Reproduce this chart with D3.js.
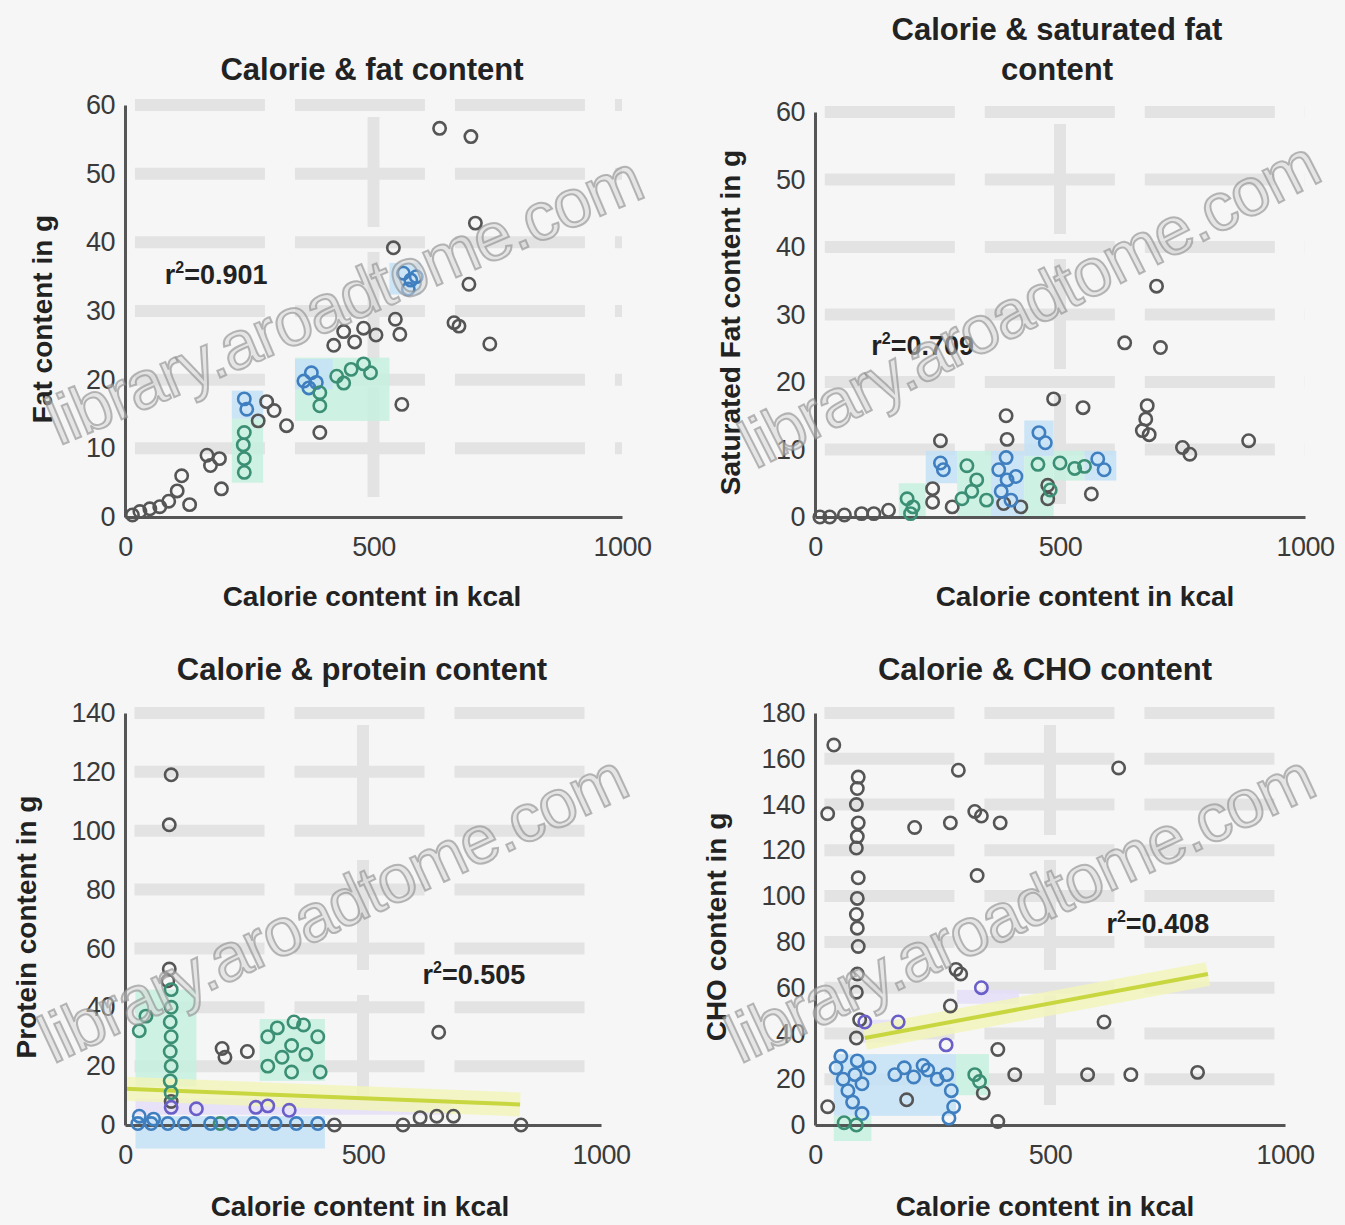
<!DOCTYPE html>
<html>
<head>
<meta charset="utf-8">
<script src="https://cdn.jsdelivr.net/npm/d3@7"></script>
<style>
  body { margin: 0; background: #f6f6f6; }
  svg { display: block; font-family: "Liberation Sans", Arial, sans-serif; }
</style>
</head>
<body>
<svg id="chart" width="1345" height="1225"></svg>
<script>
// x axis ticks are shared by every panel
const calorieTicks = [0, 500, 1000];

// [kcal, grams, group]  g = grey, b = blue, t = green, p = purple
const fatPoints = [
  [633, 56.6, "g"], [696, 55.4, "g"], [705, 42.8, "g"], [692, 33.9, "g"], [662, 28.3, "g"],
  [672, 27.8, "g"], [734, 25.2, "g"], [540, 39.2, "g"], [544, 28.8, "g"], [553, 26.6, "g"],
  [557, 16.4, "g"], [480, 27.5, "g"], [505, 26.5, "g"], [462, 25.5, "g"], [440, 27, "g"],
  [420, 25, "g"], [392, 12.3, "g"], [325, 13.3, "g"], [300, 15.5, "g"], [285, 16.8, "g"],
  [268, 14, "g"], [194, 4.1, "g"], [190, 8.5, "g"], [165, 9, "g"], [172, 7.5, "g"],
  [114, 6, "g"], [105, 3.8, "g"], [88, 2.3, "g"], [70, 1.5, "g"], [50, 1.2, "g"],
  [30, 0.8, "g"], [15, 0.3, "g"], [130, 1.8, "g"],
  [560, 35.5, "b"], [575, 34.5, "b"], [586, 35, "b"], [570, 33.2, "b"], [360, 19.8, "b"],
  [375, 21, "b"], [385, 19.6, "b"], [370, 18.8, "b"], [240, 17.2, "b"], [245, 15.7, "b"],
  [392, 18.1, "t"], [392, 16.2, "t"], [426, 20.5, "t"], [455, 21.5, "t"], [480, 22.3, "t"],
  [494, 21, "t"], [440, 19.5, "t"], [240, 12.3, "t"], [238, 10.5, "t"], [240, 8.5, "t"],
  [240, 6.5, "t"]
];
const satFatPoints = [
  [697, 34.2, "g"], [632, 25.8, "g"], [705, 25.1, "g"], [678, 16.5, "g"], [675, 14.5, "g"],
  [668, 12.8, "g"], [682, 12.2, "g"], [750, 10.3, "g"], [765, 9.3, "g"], [885, 11.3, "g"],
  [487, 17.5, "g"], [547, 16.2, "g"], [564, 3.4, "g"], [475, 4.7, "g"], [475, 2.7, "g"],
  [390, 15, "g"], [392, 11.5, "g"], [256, 11.3, "g"], [240, 4.2, "g"], [240, 2.2, "g"],
  [280, 1.5, "g"], [150, 1, "g"], [120, 0.5, "g"], [95, 0.5, "g"], [60, 0.3, "g"],
  [30, 0, "g"], [10, 0, "g"], [385, 2, "g"], [420, 1.5, "g"],
  [457, 12.5, "b"], [470, 11, "b"], [577, 8.6, "b"], [590, 7, "b"], [390, 8.8, "b"],
  [375, 7, "b"], [392, 5.5, "b"], [380, 3.8, "b"], [400, 2.5, "b"], [256, 8, "b"],
  [262, 7, "b"], [410, 6, "b"],
  [455, 7.8, "t"], [500, 8, "t"], [530, 7.2, "t"], [550, 7.5, "t"], [310, 7.6, "t"],
  [330, 5.5, "t"], [320, 3.8, "t"], [300, 2.7, "t"], [350, 2.5, "t"], [188, 2.7, "t"],
  [200, 1.5, "t"], [195, 0.5, "t"], [480, 4, "t"]
];
const proteinPoints = [
  [97, 119, "g"], [93, 102, "g"], [93, 53, "g"], [90, 49, "g"], [204, 26, "g"],
  [210, 23, "g"], [257, 25, "g"], [659, 31.5, "g"], [584, 0, "g"], [620, 2.5, "g"],
  [655, 3, "g"], [690, 3, "g"], [832, 0, "g"], [97, 8, "g"], [440, 0, "g"],
  [97, 46, "t"], [97, 40, "t"], [95, 35, "t"], [97, 30, "t"], [95, 25, "t"],
  [97, 20, "t"], [95, 15, "t"], [97, 11, "t"], [44, 37, "t"], [30, 32, "t"],
  [300, 30, "t"], [320, 33, "t"], [355, 35, "t"], [375, 34, "t"], [405, 30, "t"],
  [350, 27, "t"], [380, 24, "t"], [410, 18, "t"], [350, 18, "t"], [300, 20, "t"],
  [330, 23, "t"], [200, 0.5, "t"],
  [27, 0.5, "b"], [55, 0.5, "b"], [90, 0.5, "b"], [125, 0.5, "b"], [180, 0.5, "b"],
  [225, 0.5, "b"], [270, 0.5, "b"], [315, 0.5, "b"], [360, 0.5, "b"], [405, 0.5, "b"],
  [30, 3, "b"], [60, 2, "b"],
  [97, 6, "p"], [150, 5.5, "p"], [275, 6, "p"], [300, 6.5, "p"], [345, 5, "p"]
];
const choPoints = [
  [40, 166, "g"], [27, 136, "g"], [212, 130, "g"], [288, 132, "g"], [305, 155, "g"],
  [340, 137, "g"], [354, 135, "g"], [394, 132, "g"], [345, 109, "g"], [646, 156, "g"],
  [300, 68, "g"], [310, 66, "g"], [288, 52, "g"], [389, 33, "g"], [615, 45, "g"],
  [425, 22, "g"], [580, 22, "g"], [672, 22, "g"], [814, 23, "g"], [358, 14, "g"],
  [389, 1.5, "g"], [195, 11, "g"], [27, 8, "g"],
  [92, 152, "g"], [90, 147, "g"], [88, 140, "g"], [92, 132, "g"], [90, 126, "g"],
  [88, 121, "g"], [92, 108, "g"], [90, 99, "g"], [88, 92, "g"], [90, 86, "g"],
  [92, 78, "g"], [90, 66, "g"], [88, 58, "g"], [95, 46, "g"], [88, 38, "g"],
  [354, 60, "p"], [177, 45, "p"], [106, 45, "p"], [279, 35, "p"],
  [45, 25, "b"], [60, 20, "b"], [70, 15, "b"], [80, 10, "b"], [90, 28, "b"],
  [100, 5, "b"], [85, 22, "b"], [55, 30, "b"], [100, 18, "b"], [115, 25, "b"],
  [170, 22, "b"], [190, 25, "b"], [210, 21, "b"], [240, 24, "b"], [260, 20, "b"],
  [280, 22, "b"], [290, 15, "b"], [295, 8, "b"], [285, 3, "b"], [230, 26, "b"],
  [340, 22, "t"], [350, 19, "t"], [62, 1, "t"], [88, 0, "t"]
];

// highlighted blocks [kcal from, kcal to, g from, g to, group]
const fatBlocks = [
  [532, 595, 32.4, 37, "b"], [342, 532, 14, 23.2, "t"], [342, 418, 18.6, 23, "b"],
  [215, 278, 14.3, 18.4, "b"], [215, 278, 5, 14.3, "t"]
];
const satFatBlocks = [
  [171, 226, 0, 5, "t"], [226, 290, 5, 9.8, "b"], [290, 359, 0, 9.8, "t"],
  [359, 427, 0, 9.8, "b"], [427, 487, 0, 9, "t"], [427, 487, 9, 14.3, "b"],
  [487, 550, 5.4, 9.8, "t"], [550, 615, 5.4, 9.8, "b"]
];
const proteinBlocks = [
  [22, 150, 13, 46, "t"], [283, 420, 15, 36, "t"], [22, 420, -8, 3, "b"], [22, 686, 3.5, 9, "p"]
];
const choBlocks = [
  [40, 300, 4, 31, "b"], [300, 370, 13, 31, "t"], [40, 120, -7, 4, "t"],
  [302, 434, 53, 59, "p"], [100, 180, 36, 46, "p"]
];

// trend lines [kcal, g] at both ends
const proteinTrend = [[0, 12.3], [830, 7]];
const choTrend = [[106, 38], [836, 66]];

const groupStroke = {g: "#555", b: "#3f7fc0", t: "#3b8f74", p: "#6a5fc8"};
const groupFill = {b: "#c4e2f6", t: "#c6f0de", p: "#e4def8"};

const svg = d3.select("#chart");

const panels = [
  {points: fatPoints, blocks: fatBlocks, yMax: 60, yStep: 10,
   title: ["Calorie & fat content"], yLabel: "Fat content in g", r2: "0.901",
   x0: 125, x1: 622, yB: 517, yT: 105, titleX: 372, titleY: [80],
   xLabelX: 372, xLabelY: 606, yLabelX: 52, r2At: [80, 34], wmAngle: -23},
  {points: satFatPoints, blocks: satFatBlocks, yMax: 60, yStep: 10,
   title: ["Calorie & saturated fat", "content"], yLabel: "Saturated Fat content in g", r2: "0.709",
   x0: 815, x1: 1305, yB: 517, yT: 112, titleX: 1057, titleY: [40, 80],
   xLabelX: 1085, xLabelY: 606, yLabelX: 740, r2At: [115, 24], wmAngle: -27},
  {points: proteinPoints, blocks: proteinBlocks, yMax: 140, yStep: 20,
   title: ["Calorie & protein content"], yLabel: "Protein content in g", r2: "0.505",
   x0: 125, x1: 601, yB: 1125, yT: 713, titleX: 362, titleY: [680], trend: proteinTrend,
   xLabelX: 360, xLabelY: 1216, yLabelX: 36, r2At: [625, 48], wmAngle: -25},
  {points: choPoints, blocks: choBlocks, yMax: 180, yStep: 20,
   title: ["Calorie & CHO content"], yLabel: "CHO content in g", r2: "0.408",
   x0: 815, x1: 1285, yB: 1125, yT: 713, titleX: 1045, titleY: [680], trend: choTrend,
   xLabelX: 1045, xLabelY: 1216, yLabelX: 726, r2At: [620, 84], wmAngle: -25}
];

panels.forEach(drawPanel);

function drawPanel(p) {
  const x = d3.scaleLinear().domain([0, 1000]).range([p.x0, p.x1]);
  const y = d3.scaleLinear().domain([0, p.yMax]).range([p.yB, p.yT]);
  const yTicks = d3.range(0, p.yMax + 1, p.yStep);
  const g = svg.append("g");

  // wide washed-out grid bands
  g.selectAll(".hgrid")
    .data(yTicks.slice(1))
    .enter()
    .append("line")
      .attr("x1", x(20)).attr("x2", x(1000))
      .attr("y1", d => y(d)).attr("y2", d => y(d))
      .attr("stroke", "#e3e3e3")
      .attr("stroke-width", 12)
      .attr("stroke-dasharray", "130 30");
  g.append("line")
      .attr("x1", x(500)).attr("x2", x(500))
      .attr("y1", y(p.yMax) + 12).attr("y2", p.yB - 4)
      .attr("stroke", "#e3e3e3")
      .attr("stroke-width", 12)
      .attr("stroke-dasharray", "110 25");

  // coloured blocks
  g.selectAll(".block")
    .data(p.blocks)
    .enter()
    .append("rect")
      .attr("x", d => x(d[0]))
      .attr("y", d => y(d[3]))
      .attr("width", d => x(d[1]) - x(d[0]))
      .attr("height", d => y(d[2]) - y(d[3]))
      .attr("fill", d => groupFill[d[4]])
      .attr("opacity", 0.85);

  // trend line with its pale halo
  if (p.trend) {
    const line = d3.line().x(d => x(d[0])).y(d => y(d[1]));
    g.append("path").attr("d", line(p.trend))
      .attr("stroke", "#f2f5b8").attr("stroke-width", 24).attr("fill", "none").attr("opacity", 0.8);
    g.append("path").attr("d", line(p.trend))
      .attr("stroke", "#c8d640").attr("stroke-width", 4).attr("fill", "none");
  }

  // axes
  const xAxis = g.append("g")
    .attr("transform", `translate(0,${p.yB})`)
    .call(d3.axisBottom(x).tickValues(calorieTicks).tickFormat(d3.format("d")).tickSize(0).tickPadding(20));
  const yAxis = g.append("g")
    .attr("transform", `translate(${p.x0},0)`)
    .call(d3.axisLeft(y).tickValues(yTicks).tickSize(0).tickPadding(10));
  [xAxis, yAxis].forEach(a => {
    a.select(".domain").attr("stroke", "#555").attr("stroke-width", 3);
    a.selectAll("text")
      .attr("fill", "#3a3a3a")
      .style("font-size", "27px")
      .style("letter-spacing", "-0.5px");
  });

  // markers
  const marker = d3.symbol().type(d3.symbolCircle).size(120);
  g.selectAll(".pt")
    .data(p.points)
    .enter()
    .append("path")
      .attr("d", marker)
      .attr("transform", d => `translate(${x(d[0])},${y(d[1])})`)
      .attr("fill", "none")
      .attr("stroke", d => groupStroke[d[2]])
      .attr("stroke-width", 2.6);

  // titles and labels
  p.title.forEach((t, i) => {
    g.append("text")
      .attr("x", p.titleX).attr("y", p.titleY[i])
      .attr("text-anchor", "middle")
      .attr("fill", "#222")
      .style("font-size", "31px").style("font-weight", "bold")
      .text(t);
  });
  g.append("text")
    .attr("x", p.xLabelX).attr("y", p.xLabelY)
    .attr("text-anchor", "middle")
    .attr("fill", "#222")
    .style("font-size", "28px").style("font-weight", "bold")
    .text("Calorie content in kcal");
  g.append("text")
    .attr("transform", `translate(${p.yLabelX},${(p.yB + p.yT) / 2 + 8}) rotate(-90)`)
    .attr("text-anchor", "middle")
    .attr("fill", "#222")
    .style("font-size", "28px").style("font-weight", "bold")
    .text(p.yLabel);

  const r2 = g.append("text")
    .attr("x", x(p.r2At[0])).attr("y", y(p.r2At[1]))
    .attr("fill", "#222")
    .style("font-size", "27px").style("font-weight", "bold");
  r2.append("tspan").text("r");
  r2.append("tspan").attr("dy", -11).style("font-size", "16px").text("2");
  r2.append("tspan").attr("dy", 11).text("=" + p.r2);

  // faint watermark across the panel
  g.append("text")
    .attr("transform", `translate(${(p.x0 + p.x1) / 2 - 20},${(p.yB + p.yT) / 2 + 10}) rotate(${p.wmAngle})`)
    .attr("text-anchor", "middle")
    .attr("fill", "rgba(215,215,215,0.55)")
    .attr("stroke", "rgba(140,140,140,0.6)")
    .attr("stroke-width", 2)
    .style("font-size", "68px")
    .attr("textLength", 640)
    .text("library.aroadtome.com");
}
</script>
</body>
</html>
